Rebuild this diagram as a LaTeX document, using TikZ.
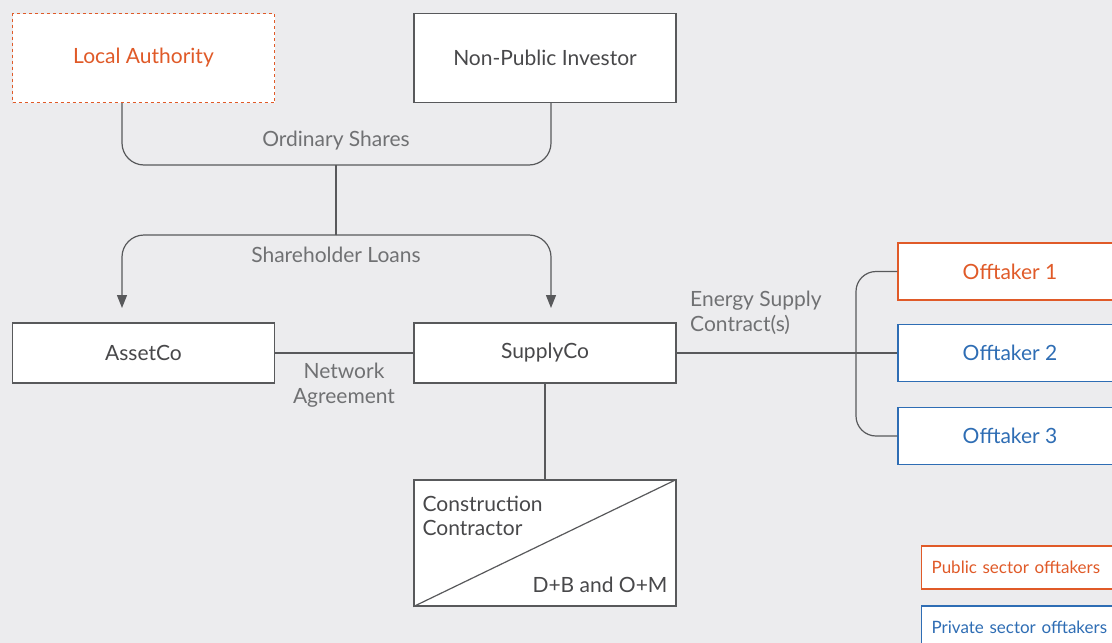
\documentclass[tikz,border=0pt]{standalone}
\usepackage{fontspec}
\setmainfont{Lato}
\usepackage{tikz}
\usetikzlibrary{arrows.meta,positioning}
\definecolor{bggrey}{RGB}{236,236,238}
\definecolor{lngrey}{RGB}{88,89,91}
\definecolor{txgrey}{RGB}{72,72,74}
\definecolor{lbgrey}{RGB}{112,113,115}
\definecolor{puborange}{RGB}{224,90,40}
\definecolor{privblue}{RGB}{46,109,180}
\tikzstyle{link} = [line width=1.2pt, color=lngrey]
\tikzstyle{arrow} = [link, -{Triangle[length=13pt,width=10pt]}]
\tikzstyle{entity} = [rectangle, draw=lngrey, fill=white, line width=1.2pt, text=txgrey, minimum width=262pt, minimum height=89pt, font=\fontsize{21}{25}\selectfont]
\tikzstyle{offtaker} = [entity, minimum width=224pt, minimum height=57pt]
\tikzstyle{legend} = [rectangle, fill=white, line width=1.2pt, minimum width=220pt, minimum height=43pt, anchor=west, inner xsep=9pt, text width=200pt, align=left, font=\fontsize{17}{21}\selectfont]
\tikzstyle{flowlabel} = [text=lbgrey, font=\fontsize{21}{25}\selectfont]

\begin{document}
\begin{tikzpicture}[x=1pt, y=-1pt]
\clip (0,0) rectangle (1112,643);
\fill[bggrey] (0,0) rectangle (1112,643);
% shareholders
\node (la) [entity, draw=puborange, dashed, text=puborange] at (143.5,58) {Local Authority};
\node (npi) [entity] at (545,58) {Non-Public Investor};
% project companies
\node (asset) [entity, minimum height=60pt] at (143.5,353) {AssetCo};
\node (supply) [entity, minimum height=60pt] at (545,353) {SupplyCo};
\node (cc) [entity, minimum height=126pt] at (545,543) {};
\node (cctop) [anchor=north west, align=left, text=txgrey, font=\fontsize{21}{24}\selectfont, inner sep=0pt] at ([xshift=9pt,yshift=-17pt]cc.north west) {Construction\\Contractor};
\node (ccbot) [anchor=south east, text=txgrey, font=\fontsize{21}{24}\selectfont, inner sep=0pt] at ([xshift=-9pt,yshift=14pt]cc.south east) {D+B and O+M};
% offtakers
\node (o1) [offtaker, draw=puborange, text=puborange] at (1010,271.5) {Offtaker 1};
\node (o2) [offtaker, draw=privblue, text=privblue] at (1010,353) {Offtaker 2};
\node (o3) [offtaker, draw=privblue, text=privblue] at (1010,436) {Offtaker 3};
% legend
\node (pub) [legend, draw=puborange, text=puborange] at (921,567.5) {Public sector offtakers};
\node (priv) [legend, draw=privblue, text=privblue] at (921,627.5) {Private sector offtakers};

% connectors
\coordinate (os) at (336,165);
\coordinate (sl) at (336,235);
\coordinate (assetin) at (122,308);
\coordinate (supplyin) at (551,308);
\draw[link, rounded corners=22pt] ([xshift=-21.5pt]la.south) |- (os) -| ([xshift=6pt]npi.south);
\draw[link] (os) -- (sl);
\draw[arrow, rounded corners=22pt] (sl) -| (assetin);
\draw[arrow, rounded corners=22pt] (sl) -| (supplyin);
\draw[link] (asset) -- (supply);
\draw[link] (supply) -- (cc);
\draw[link] (cc.south west) -- (cc.north east);
\draw[link] (supply) -- (o2);
\coordinate (br) at (856,353);
\draw[link, rounded corners=20pt] (o1.west) -| (br) |- (o3.west);

% labels
\node (oslabel) [flowlabel] at (336,141) {Ordinary Shares};
\node (sllabel) [flowlabel] at (336,255) {Shareholder Loans};
\node (nalabel) [flowlabel, align=center] at (344,385) {Network\\Agreement};
\node (eslabel) [flowlabel, align=left, anchor=west, inner sep=0pt] at (690,313) {Energy Supply\\Contract(s)};
\end{tikzpicture}
\end{document}
